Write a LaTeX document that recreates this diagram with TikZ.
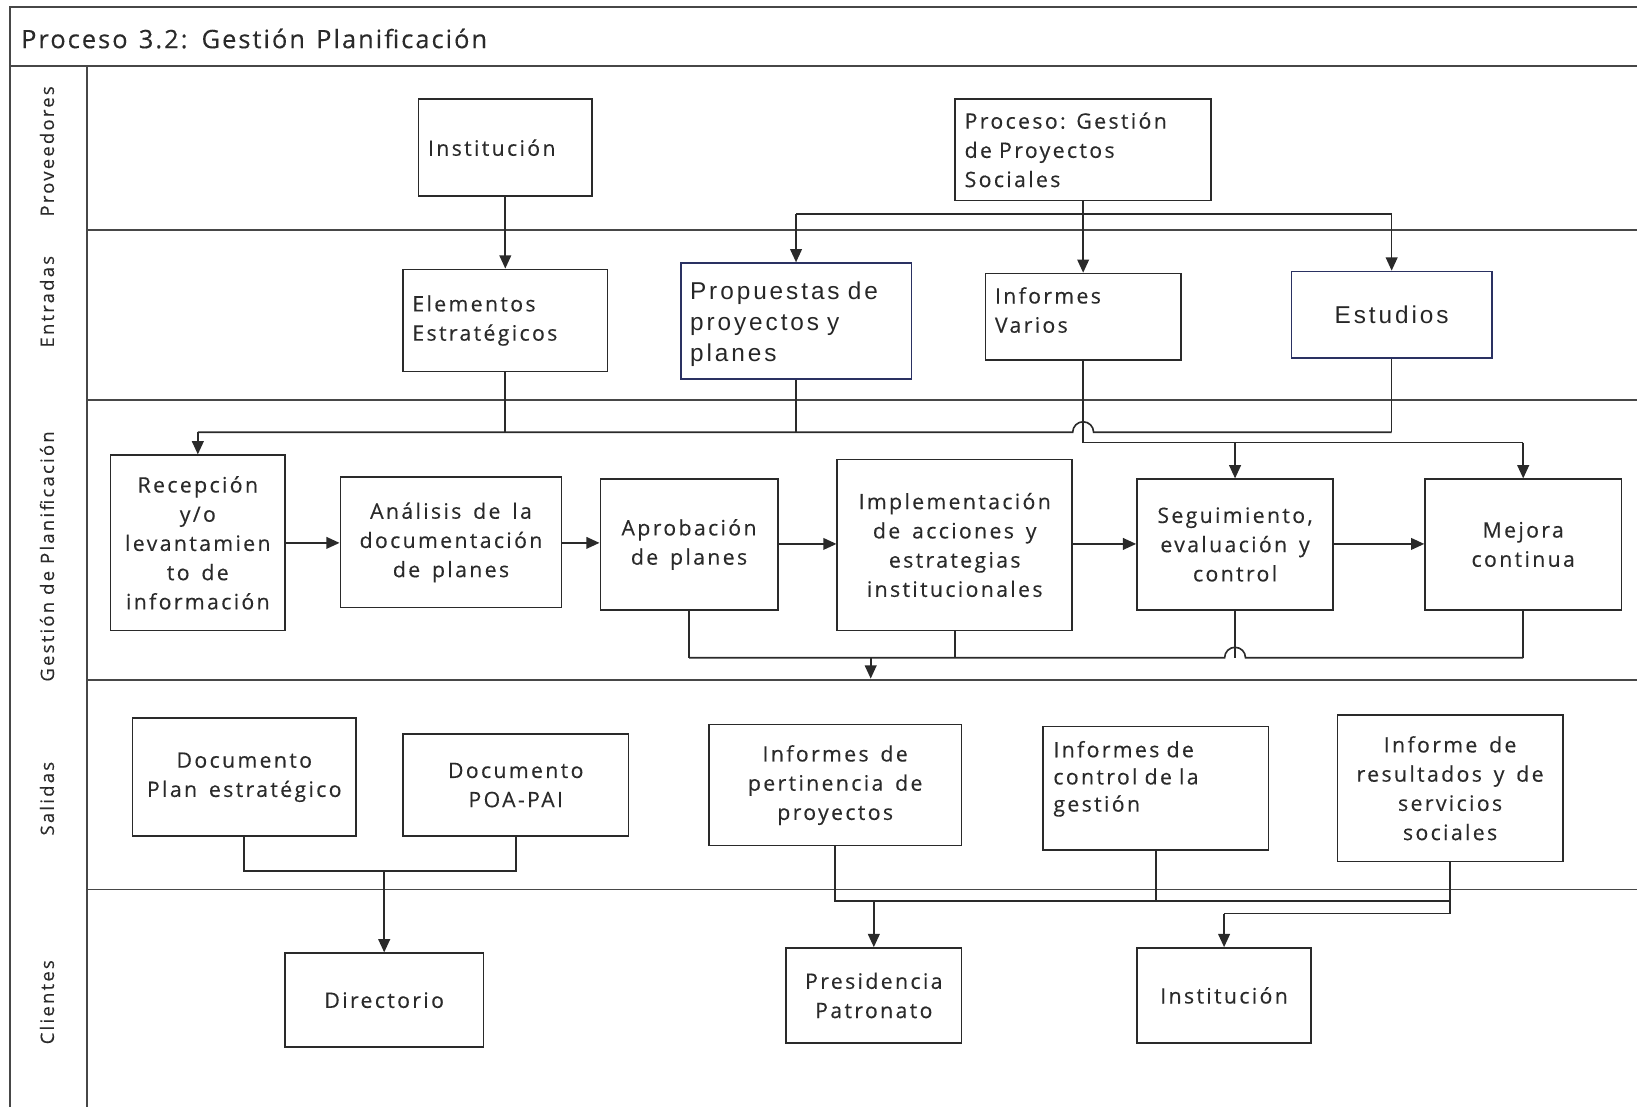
\documentclass[tikz,border=0pt]{standalone}
\usepackage{fontspec}
\setmainfont{Open Sans}
\newfontfamily\boxfnt[LetterSpace=11,WordSpace=1.5,FakeBold=0.3]{Open Sans}
\newfontfamily\lanefnt[LetterSpace=12,FakeBold=0.2]{Open Sans}
\newfontfamily\titlefnt[LetterSpace=8,WordSpace=1.3,FakeBold=0.3]{Open Sans}
\newfontfamily\arialfnt[LetterSpace=12,WordSpace=1.2]{Liberation Sans}
\usetikzlibrary{arrows.meta}

\definecolor{ink}{HTML}{2A2A2A}
\definecolor{framec}{HTML}{474747}
\definecolor{navy}{HTML}{2A3162}

% a box given by its two corners (x1,y1) (x2,y2), y grows downwards
\newcommand\boxat[7][]{%
  \node[box,minimum width={(#5-#3)*0.025cm},minimum height={(#6-#4)*0.025cm},#1]
    (#2) at ({(#3+#5)/2},{(#4+#6)/2}) {#7};}

\begin{document}
\begin{tikzpicture}[x=0.025cm,y=-0.025cm,
  box/.style={draw=ink,line width=1.1pt,inner sep=0pt,text=ink,align=center,
    font=\boxfnt\fontsize{14.5}{19.9}\selectfont},
  bluebox/.style={draw=navy,font=\arialfnt\fontsize{16.6}{21.3}\selectfont,text=black!85},
  txt/.style={inner sep=0pt,text=ink,font=\boxfnt\fontsize{14.5}{19.9}\selectfont},
  lane/.style={inner sep=0pt,text=ink,rotate=90,font=\lanefnt\fontsize{12.6}{15}\selectfont},
  rule/.style={draw=framec,line width=1.3pt},
  wire/.style={draw=ink,line width=1.1pt},
  arr/.style={wire,-{Triangle[length=9pt,width=8pt]}}]

\useasboundingbox (0,0) rectangle (1568,1060);

% frame, title bar and swimlanes
\draw[rule] (10,1060) -- (10,7) -- (1568,7);
\draw[rule] (10,63) -- (1568,63);
\draw[rule] (83,63) -- (83,1060);
\foreach \yy in {220,383,651,852} \draw[rule] (83,\yy) -- (1568,\yy);

\node[anchor=west,inner sep=0pt,text=ink,font=\titlefnt\fontsize{17.3}{20}\selectfont]
  (title) at (20,37) {Proceso 3.2: Gestión Planificación};

\node[lane] (lprov) at (45,145) {Proveedores};
\node[lane] (lent)  at (45,289) {Entradas};
\node[lane] (lgest) at (45,533) {Gestión de Planificación};
\node[lane] (lsal)  at (45,765) {Salidas};
\node[lane] (lcli)  at (45,960) {Clientes};

% Proveedores
\boxat[align=left,text width={148*0.025cm}]{inst1}{401}{95}{567}{188}{Institución}
\boxat[align=left,text width={227*0.025cm}]{proc}{915}{95}{1160}{192}{Proceso: Gestión\\de Proyectos\\Sociales}

% Entradas
\boxat[align=left,text width={178*0.025cm}]{elem}{386}{258}{582}{356}{Elementos\\Estratégicos}
\boxat[draw=navy]{prop}{652}{252}{873}{363}{}
\node[txt,bluebox,draw=none,align=left,text width={203*0.025cm}] (propt) at (762.5,310.5)
  {Propuestas de\\proyectos y\\planes};
\boxat{ivar}{944}{262}{1131}{345}{}
\node[txt,align=left,text width={169*0.025cm}] (ivart) at (1037.5,297) {Informes\\Varios};
\boxat[bluebox]{est}{1237}{260}{1429}{343}{Estudios}

% Gestión de Planificación
\boxat{rec}{106}{436}{273}{604}{Recepción\\y/o\\levantamien\\to de\\información}
\boxat{anal}{326}{457}{538}{582}{Análisis de la\\documentación\\de planes}
\boxat{apr}{575}{459}{745}{584}{Aprobación\\de planes}
\boxat{impl}{802}{440}{1027}{604}{Implementación\\de acciones y\\estrategias\\institucionales}
\boxat{seg}{1089}{459}{1277}{584}{Seguimiento,\\evaluación y\\control}
\boxat{mej}{1365}{459}{1553}{584}{Mejora\\continua}

% Salidas
\boxat{dplan}{127}{688}{341}{801}{Documento\\Plan estratégico}
\boxat{dpoa}{386}{703}{602}{801}{Documento\\POA-PAI}
\boxat{ipert}{679}{694}{921}{810}{Informes de\\pertinencia de\\proyectos}
\boxat{ictrl}{999}{696}{1215}{814}{}
\node[txt,align=left,text width={196*0.025cm},font=\boxfnt\fontsize{14.5}{18.5}\selectfont]
  (ictrlt) at (1107,746) {Informes de\\control de la\\gestión};
\boxat{ires}{1281}{685}{1497}{825}{Informe de\\resultados y de\\servicios\\sociales}

% Clientes
\boxat{dir}{273}{913}{463}{1003}{Directorio}
\boxat{pres}{753}{908}{921}{999}{Presidencia\\Patronato}
\boxat{inst2}{1089}{908}{1256}{999}{Institución}

% Proveedores -> Entradas
\draw[arr] (inst1.south) -- (elem.north -| inst1.south);
\draw[wire] (proc.south) -- ++(0,12) coordinate (busA);
\draw[wire] (prop.north |- busA) -- (est.north |- busA);
\draw[arr] (prop.north |- busA) -- (prop.north);
\draw[arr] (busA) -- (ivar.north);
\draw[arr] (est.north |- busA) -- (est.north);

% Entradas -> Gestión
\coordinate (busB) at (0,414);
\draw[wire] (elem.south) -- (elem.south |- busB);
\draw[wire] (prop.south) -- (prop.south |- busB);
\draw[wire] (est.south) -- (est.south |- busB);
\draw[wire] (rec.north |- busB) -- ([xshift=-10*0.025cm]ivar.south |- busB)
  arc[start angle=180,end angle=0,radius=0.25cm] -- (est.south |- busB);
\draw[arr] (rec.north |- busB) -- (rec.north);
\draw[wire] (ivar.south) -- (ivar.south |- 0,424) coordinate (busC)
  -- (mej.north |- busC);
\draw[arr] (seg.north |- busC) -- (seg.north);
\draw[arr] (mej.north |- busC) -- (mej.north);

% sequence of the process
\draw[arr] (rec.east |- 0,520) -- (anal.west |- 0,520);
\draw[arr] (anal.east |- 0,520) -- (apr.west |- 0,520);
\draw[arr] (apr.east |- 0,521) -- (impl.west |- 0,521);
\draw[arr] (impl.east |- 0,521) -- (seg.west |- 0,521);
\draw[arr] (seg.east |- 0,521) -- (mej.west |- 0,521);

% Gestión -> Salidas
\coordinate (busD) at (0,630);
\draw[wire] (apr.south) -- (apr.south |- busD);
\draw[wire] (impl.south) -- (impl.south |- busD);
\draw[wire] (seg.south) -- (seg.south |- busD);
\draw[wire] (mej.south) -- (mej.south |- busD);
\draw[wire] (apr.south |- busD) -- ([xshift=-10*0.025cm]seg.south |- busD)
  arc[start angle=180,end angle=0,radius=0.25cm] -- (mej.south |- busD);
\coordinate (outG) at (834,650);
\draw[arr] (outG |- busD) -- (outG);

% Salidas -> Clientes
\coordinate (busE) at (0,834);
\draw[wire] (dplan.south) -- (dplan.south |- busE) -- (dpoa.south |- busE) -- (dpoa.south);
\draw[arr] (dir.north |- busE) -- (dir.north);

\coordinate (busF) at (0,863);
\draw[wire] (ipert.south) -- (ipert.south |- busF) -- (ires.south |- busF);
\draw[wire] (ictrl.south) -- (ictrl.south |- busF);
\draw[arr] (pres.north |- busF) -- (pres.north);
\draw[wire] (ires.south) -- (ires.south |- 0,875) coordinate (busG) -- (inst2.north |- busG);
\draw[arr] (inst2.north |- busG) -- (inst2.north);

\end{tikzpicture}
\end{document}
